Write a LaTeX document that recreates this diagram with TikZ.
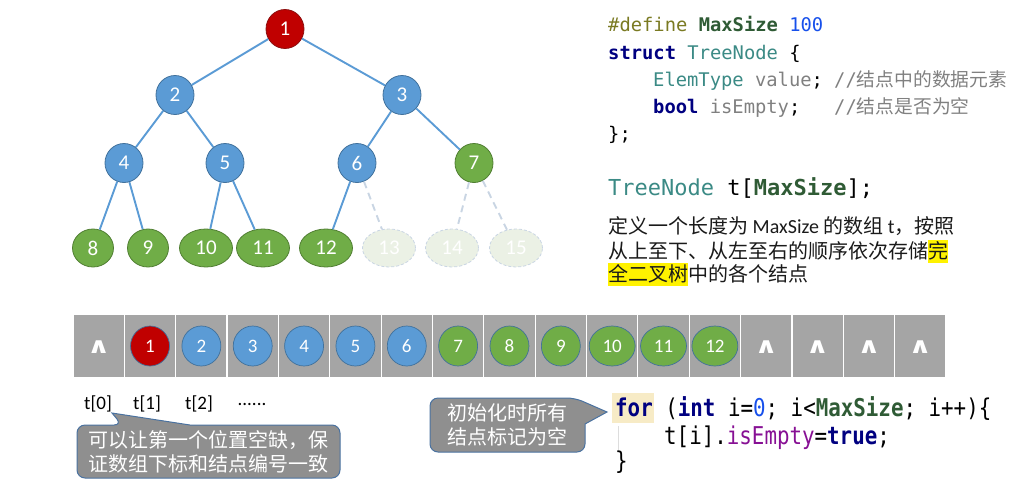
\documentclass[tikz,border=0pt]{standalone}
\usepackage{fontspec}
\usepackage{graphicx}
\setmainfont{Carlito}
\setmonofont{DejaVu Sans Mono}
\newfontfamily\cjk{Noto Sans CJK SC}
\newfontfamily\symfont{DejaVu Sans}
\newfontfamily\codeb[FakeStretch=0.85]{DejaVu Sans Mono}
\usetikzlibrary{shapes.geometric}
\definecolor{cred}{HTML}{C00000}
\definecolor{credD}{HTML}{8C1010}
\definecolor{cblue}{HTML}{5B9BD5}
\definecolor{cblueD}{HTML}{41719C}
\definecolor{cgreen}{HTML}{70AD47}
\definecolor{cgreenD}{HTML}{507E32}
\definecolor{cghost}{HTML}{EBF1E5}
\definecolor{cghostD}{HTML}{C9D5E3}
\definecolor{cgrayc}{HTML}{A5A5A5}
\definecolor{ccall}{HTML}{8F8F8F}
\definecolor{ccallD}{HTML}{4A72A0}
\definecolor{cdef}{HTML}{7A7A22}
\definecolor{cmac}{HTML}{2F5B35}
\definecolor{cnum}{HTML}{1750EB}
\definecolor{ckw}{HTML}{000080}
\definecolor{ctype}{HTML}{3B8A85}
\definecolor{cgr}{HTML}{808080}
\definecolor{cpur}{HTML}{871094}
\definecolor{cforbg}{HTML}{F7EBC6}
\definecolor{cguide}{HTML}{DDDDDD}
\definecolor{ctext}{HTML}{1A1A1A}
\begin{document}
\begin{tikzpicture}[x=1pt,y=-1pt,
  tn/.style={ellipse, inner sep=0pt, text=white, line width=0.8pt,
    font=\fontsize{21}{21}\selectfont, minimum width=38pt, minimum height=39pt},
  rd/.style={tn, fill=cred, draw=credD},
  bl/.style={tn, fill=cblue, draw=cblueD},
  gr/.style={tn, fill=cgreen, draw=cgreenD},
  wide/.style={minimum width=53pt, minimum height=38pt},
  small/.style={minimum width=41pt, minimum height=38pt},
  gh/.style={tn, fill=cghost, draw=cghostD, dash pattern=on 3pt off 2pt, wide},
  edge/.style={draw=cblue, line width=1.9pt},
  ghedge/.style={draw=cghostD, line width=1.9pt, dash pattern=on 7pt off 5pt},
  cell/.style={rectangle, minimum width=51.35pt, minimum height=64pt, inner sep=0pt,
    fill=cgrayc, draw=white, line width=1.2pt},
  an/.style={ellipse, inner sep=0pt, text=white, line width=0.7pt, draw=cblueD,
    font=\fontsize{19}{19}\selectfont, minimum width=39pt, minimum height=40pt},
  anw/.style={an, minimum width=46pt, minimum height=40pt},
  caret/.style={text=white, inner sep=0pt, font=\symfont\bfseries\fontsize{22}{22}\selectfont},
  lbl/.style={inner sep=0pt, font=\fontsize{19}{19}\selectfont},
  callout/.style={fill=ccall, draw=ccallD, line width=1pt},
  ctxt/.style={text=white, align=center, inner sep=0pt,
    font=\cjk\fontsize{20}{24}\selectfont},
  code/.style={anchor=base west, inner sep=0pt, font=\ttfamily\fontsize{18.8}{20}\selectfont},
  codebig/.style={anchor=base west, inner sep=0pt, font=\ttfamily\fontsize{22}{24}\selectfont},
  codelow/.style={anchor=base west, inner sep=0pt, font=\codeb\fontsize{24.5}{26}\selectfont},
  para/.style={anchor=base west, inner sep=0pt, text=ctext, font=\cjk\fontsize{20}{24}\selectfont}
]
\useasboundingbox (0,0) rectangle (1032,482);

% ---------------- tree ----------------
\node[rd] (n1) at (285,29) {1};
\node[bl] (n2) at (175,95) {2};
\node[bl] (n3) at (402,95) {3};
\node[bl] (n4) at (124,163) {4};
\node[bl] (n5) at (225,163) {5};
\node[bl] (n6) at (357,163) {6};
\node[gr] (n7) at (474,163) {7};
\node[gr,small] (n8) at (93,248) {8};
\node[gr,small] (n9) at (148,248) {9};
\node[gr,wide] (n10) at (206,248) {10};
\node[gr,wide] (n11) at (263,248) {11};
\node[gr,wide] (n12) at (326,248) {12};
\node[gh] (n13) at (389,248) {13};
\node[gh] (n14) at (452,248) {14};
\node[gh] (n15) at (516,248) {15};
\draw[edge] (n1) -- (n2);
\draw[edge] (n1) -- (n3);
\draw[edge] (n2) -- (n4);
\draw[edge] (n2) -- (n5);
\draw[edge] (n3) -- (n6);
\draw[edge] (n3) -- (n7);
\draw[edge] (n4) -- (n8);
\draw[edge] (n4) -- (n9);
\draw[edge] (n5) -- (n10);
\draw[edge] (n5) -- (n11);
\draw[edge] (n6) -- (n12);
\draw[ghedge] (n6) -- (n13);
\draw[ghedge] (n7) -- (n14);
\draw[ghedge] (n7) -- (n15);

% ---------------- top code ----------------
\node[code] (d1) at (608,31) {{\color{cdef}\#define} {\bfseries\color{cmac}MaxSize} {\color{cnum}100}};
\node[code] (d2) at (608,59) {{\bfseries\color{ckw}struct} {\color{ctype}TreeNode} \{};
\node[code] (d3) at (653,86) {{\color{ctype}ElemType} {\color{cgr}value};};
\node[code] (d3c) at (834,86) {\color{cgr}//{\cjk 结点中的数据元素}};
\node[code] (d4) at (653,113) {{\bfseries\color{ckw}bool} {\color{cgr}isEmpty};};
\node[code] (d4c) at (834,113) {\color{cgr}//{\cjk 结点是否为空}};
\node[code] (d5) at (608,140) {\};};
\node[codebig] (d6) at (608,195) {{\color{ctype}TreeNode} t[{\bfseries\color{cmac}MaxSize}];};

% ---------------- paragraph ----------------
\setlength{\fboxsep}{0pt}
\node[para] (p1) at (608,233) {定义一个长度为 {\rmfamily MaxSize} 的数组 {\rmfamily t}，按照};
\node[para] (p2) at (608,258) {从上至下、从左至右的顺序依次存储\colorbox{yellow}{\rule[-5pt]{0pt}{23pt}完}};
\node[para] (p3) at (608,281) {\colorbox{yellow}{\rule[-5pt]{0pt}{23pt}全二叉树}中的各个结点};

% ---------------- array ----------------
\foreach \i in {0,...,16} {
  \node[cell] (c\i) at ({73+51.35*(\i+0.5)},346) {};
}
\node[caret] (k0) at ([yshift=-1pt]c0) {\scalebox{1.3}[1]{∧}};
\node[an, fill=cred] (a1) at (c1) {1};
\node[an, fill=cblue] (a2) at (c2) {2};
\node[an, fill=cblue] (a3) at (c3) {3};
\node[an, fill=cblue] (a4) at (c4) {4};
\node[an, fill=cblue] (a5) at (c5) {5};
\node[an, fill=cblue] (a6) at (c6) {6};
\node[an, fill=cgreen] (a7) at (c7) {7};
\node[an, fill=cgreen] (a8) at (c8) {8};
\node[an, fill=cgreen] (a9) at (c9) {9};
\node[anw, fill=cgreen] (a10) at (c10) {10};
\node[anw, fill=cgreen] (a11) at (c11) {11};
\node[anw, fill=cgreen] (a12) at (c12) {12};
\node[caret] (k13) at ([yshift=-1pt]c13) {\scalebox{1.3}[1]{∧}};
\node[caret] (k14) at ([yshift=-1pt]c14) {\scalebox{1.3}[1]{∧}};
\node[caret] (k15) at ([yshift=-1pt]c15) {\scalebox{1.3}[1]{∧}};
\node[caret] (k16) at ([yshift=-1pt]c16) {\scalebox{1.3}[1]{∧}};

% ---------------- labels ----------------
\node[lbl] (t0) at (98,404) {t[0]};
\node[lbl] (t1) at (147,404) {t[1]};
\node[lbl] (t2) at (199,404) {t[2]};
\node[lbl] (t3) at (252,404) {......};

% ---------------- callouts ----------------
\draw[callout] [rounded corners=8pt] (77,451) -- (77,425) -- (122,425)
  [sharp corners] -- (112,413) -- (190,425)
  [rounded corners=8pt] -- (340,425) -- (340,478) -- (77,478) -- cycle;
\node[ctxt] (q1) at (208.5,452) {可以让第一个位置空缺，保\\证数组下标和结点编号一致};

\draw[callout] [rounded corners=8pt] (430,425) -- (430,398) -- (575,398)
  [sharp corners] -- (607,412) -- (585,424)
  [rounded corners=8pt] -- (585,452) -- (430,452) -- cycle;
\node[ctxt] (q2) at (507.5,425) {初始化时所有\\结点标记为空};

% ---------------- bottom code ----------------
\fill[cforbg] (612,393) rectangle (654,423);
\draw[cguide, line width=0.8pt] (618,426) -- (618,452);
\node[codelow] (f1) at (615,416) {{\bfseries\color{ckw}for} ({\bfseries\color{ckw}int} i={\color{cnum}0}; i<{\bfseries\color{cmac}MaxSize}; i++)\{};
\node[codelow] (f2) at (664,444) {t[i].{\color{cpur}isEmpty}={\bfseries\color{ckw}true};};
\node[codelow] (f3) at (615,469) {\}};
\end{tikzpicture}
\end{document}
